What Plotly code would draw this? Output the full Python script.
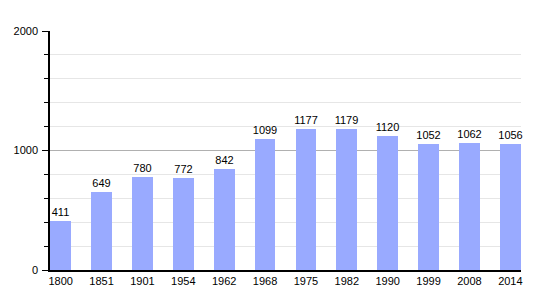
import plotly.graph_objects as go

years = ["1800", "1851", "1901", "1954", "1962", "1968", "1975", "1982", "1990", "1999", "2008", "2014"]
population = [411, 649, 780, 772, 842, 1099, 1177, 1179, 1120, 1052, 1062, 1056]
y_ticks = [0, 1000, 2000]

x = list(range(len(years)))

fig = go.Figure(go.Bar(
    x=x, y=population, width=0.51,
    marker=dict(color="#99aaff", line=dict(width=0)),
    text=[str(v) for v in population], textposition="outside",
    textfont=dict(family="Liberation Sans, Arial", size=11, color="black"),
    constraintext="none",
    cliponaxis=False,
))

fig.update_layout(
    width=550, height=300,
    margin=dict(l=50, r=29, t=31, b=30),
    paper_bgcolor="white", plot_bgcolor="white",
    showlegend=False,
    font=dict(family="Liberation Sans, Arial", size=11, color="black"),
    bargap=0,
)
fig.update_xaxes(
    tickmode="array", tickvals=x, ticktext=years, automargin=False,
    range=[-0.26, 11.26], showline=True, linecolor="black", linewidth=1.5,
    showgrid=False, ticks="", zeroline=False,
)
fig.update_yaxes(
    range=[0, 2000], tickvals=y_ticks, showline=True, linecolor="black", linewidth=1.5,
    showgrid=True, gridcolor="#b0b0b0", gridwidth=1, automargin=False,
    ticks="outside", ticklen=6, tickcolor="black", ticklabelstandoff=2,
    zeroline=False,
    minor=dict(dtick=200, showgrid=True, gridcolor="#e6e6e6", ticks="outside", ticklen=4, tickcolor="black"),
)

fig.write_html("out.html")
